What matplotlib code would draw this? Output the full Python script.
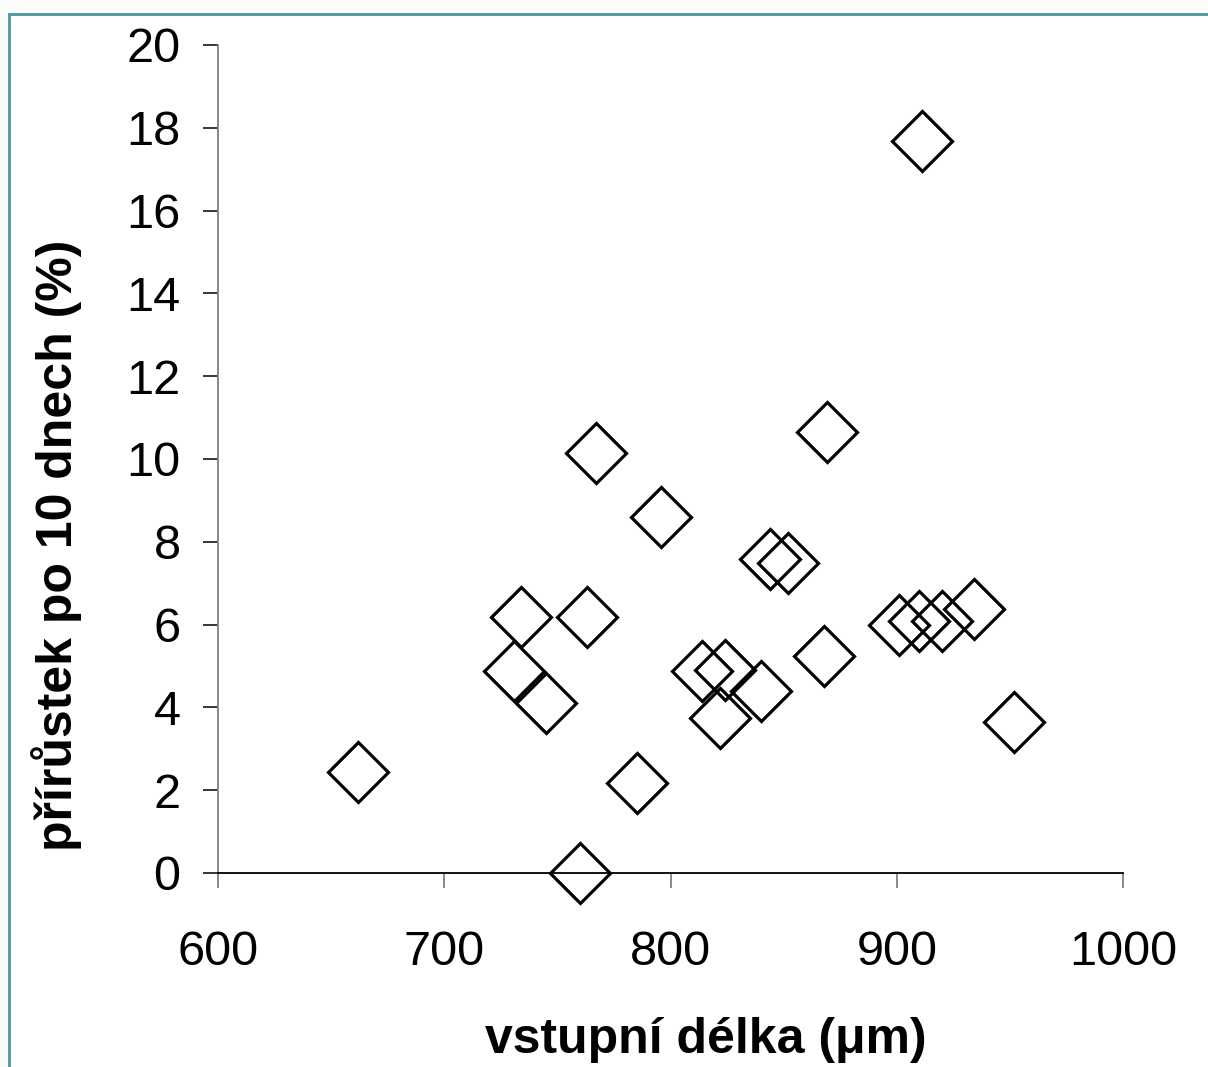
"""Scatter: vstupní délka vs. přírůstek po 10 dnech."""

import matplotlib

matplotlib.use("Agg")
import matplotlib.pyplot as plt
from matplotlib.patches import Rectangle

plt.rcParams["font.family"] = ["Liberation Sans", "DejaVu Sans"]

# data
delka_um = [
    662, 760, 731, 734, 745, 763, 767, 785, 796, 814, 824, 822,
    840, 844, 852, 868, 869, 911, 901, 910, 920, 934, 952,
]
prirustek_pct = [
    2.44, 0.0, 4.88, 6.18, 4.11, 6.18, 10.14, 2.17, 8.60, 4.88, 4.90, 3.74,
    4.40, 7.58, 7.50, 5.24, 10.66, 17.68, 5.99, 6.09, 6.09, 6.37, 3.65,
]

x_ticks = [600, 700, 800, 900, 1000]
y_ticks = list(range(0, 21, 2))

fig = plt.figure(figsize=(12.08, 10.67), dpi=100)
fig.patch.set_facecolor("#fbfbfb")

# white slide panel with the teal frame
fig.patches.append(
    Rectangle((9 / 1208, -0.01), 1.02, 1 - 14 / 1067 + 0.01,
              transform=fig.transFigure, facecolor="white",
              edgecolor="#4a989f", linewidth=2.0, zorder=-5)
)

ax = fig.add_axes([218 / 1208, 1 - 873 / 1067, (1123 - 218) / 1208, (873 - 45) / 1067])
ax.set_zorder(2)
ax.set_facecolor("none")

ax.plot(delka_um, prirustek_pct, linestyle="none", marker="D", markersize=31,
        markerfacecolor="none", markeredgecolor="black", markeredgewidth=2.3,
        clip_on=False, zorder=3)

ax.set_xlim(600, 1000)
ax.set_ylim(0, 20)
ax.set_xticks(x_ticks)
ax.set_yticks(y_ticks)

for side in ("top", "right"):
    ax.spines[side].set_visible(False)
ax.spines["left"].set_color("#808080")
ax.spines["left"].set_linewidth(1.3)
ax.spines["bottom"].set_color("black")
ax.spines["bottom"].set_linewidth(1.3)

ax.tick_params(axis="y", direction="out", length=11, width=1.1, color="black",
               labelsize=35, pad=16)
ax.tick_params(axis="x", direction="out", length=11, width=1.3, color="#808080",
               labelsize=35, pad=30)

# axis titles sit where the original slide put them, not centred on the axes
fig.text(706 / 1208, 1 - 1040 / 1067, "vstupní délka (μm)", fontsize=36,
         fontweight="bold", ha="center", va="center")
fig.text(57 / 1208, 1 - 545 / 1067, "přírůstek po 10 dnech (%)", fontsize=36,
         fontweight="bold", ha="center", va="center", rotation=90)

fig.savefig("out.png", dpi=100)
